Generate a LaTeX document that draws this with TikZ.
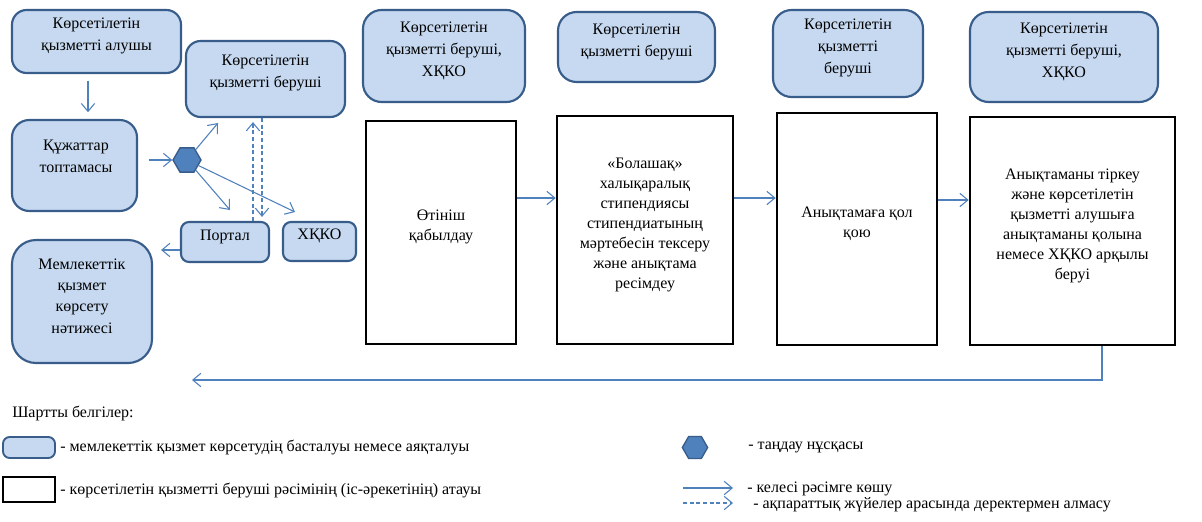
\documentclass[tikz,border=0pt]{standalone}
\usepackage{fontspec}
\setmainfont{Liberation Serif}
\usetikzlibrary{arrows.meta,shapes.geometric,fit,calc}
\definecolor{rfill}{HTML}{C6D9F1}
\definecolor{rdraw}{HTML}{385D8A}
\definecolor{arrc}{HTML}{4F81BD}
\definecolor{hexfill}{HTML}{4F81BD}
\tikzset{
  rbox/.style={draw=rdraw, fill=rfill, line width=1.6pt, inner sep=0pt, align=center, font=\fontsize{12pt}{16.5pt}\selectfont},
  pbox/.style={draw=black, fill=white, line width=2pt, inner sep=0pt, align=center, font=\fontsize{12pt}{15pt}\selectfont},
  txt/.style={inner sep=0pt, align=center, font=\fontsize{12pt}{16pt}\selectfont},
  leg/.style={inner sep=0pt, anchor=west, font=\fontsize{12pt}{14pt}\selectfont},
  arr/.style={draw=arrc, line width=0.8pt, -{Straight Barb[length=6pt,width=10pt,line width=0.8pt]}},
  darr/.style={arr, dash pattern=on 3pt off 2pt},
  hexa/.style={regular polygon, regular polygon sides=6, draw=rdraw, fill=hexfill, line width=1pt, inner sep=0pt, minimum size=21pt}
}
\begin{document}
\begin{tikzpicture}[x=0.75pt,y=-0.75pt]
\useasboundingbox (0,0) rectangle (1202,521);
\fill[white] (0,0) rectangle (1202,521);
% left part
\node[rbox, rounded corners=11pt, fit={(12,10)(181,73)}] (recv) {Көрсетілетін\\қызметті алушы};
\node[rbox, rounded corners=11pt, fit={(186,41)(345,117)}] (prov) {};
\node[txt] (provt) at (265.5,73) {Көрсетілетін\\қызметті беруші};
\node[rbox, rounded corners=13pt, fit={(12,120)(137,211)}] (docs) {};
\node[txt] (docst) at (76,156.5) {Құжаттар\\топтамасы};
\node[hexa] (hex) at (187,160) {};
\node[rbox, rounded corners=6pt, fit={(181,222)(269,262)}] (portal) {Портал};
\node[rbox, rounded corners=6pt, fit={(283,222)(356,261)}] (hkko) {ХҚКО};
\node[rbox, rounded corners=18pt, fit={(12,240)(152,363)}] (res) {};
\node[txt] (rest) at (82,296) {Мемлекеттік\\қызмет\\көрсету\\нәтижесі};
% headers
\node[rbox, rounded corners=14pt, fit={(363,10)(525,102)}] (h1) {Көрсетілетін\\қызметті беруші,\\ХҚКО};
\node[rbox, rounded corners=14pt, fit={(558,12)(715,82)}] (h2) {Көрсетілетін\\қызметті беруші};
\node[rbox, rounded corners=14pt, fit={(773,10)(923,97)}] (h3) {Көрсетілетін\\қызметті\\беруші};
\node[rbox, rounded corners=14pt, fit={(970,12)(1158,102)}] (h4) {Көрсетілетін\\қызметті беруші,\\ХҚКО};
% process boxes
\node[pbox, fit={(366,121)(516,344)}] (s1) {Өтініш\\қабылдау};
\node[pbox, fit={(557,116)(733,344)}] (s2) {«Болашақ»\\халықаралық\\стипендиясы\\стипендиатының\\мәртебесін тексеру\\және анықтама\\ресімдеу};
\node[pbox, fit={(777,113)(937,345)}] (s3) {Анықтамаға қол\\қою};
\node[pbox, fit={(970,117)(1175,345)}] (s4) {Анықтаманы тіркеу\\және көрсетілетін\\қызметті алушыға\\анықтаманы қолына\\немесе ХҚКО арқылы\\беруі};
% helper coordinates
\coordinate (x88) at (88,0);
\coordinate (x253) at (253,0);
\coordinate (x262) at (262,0);
\coordinate (y250) at (0,250);
\coordinate (ya) at (0,198);
\coordinate (yb) at (0,200);
\coordinate (xr) at (1102,0);
\coordinate (yr) at (0,380);
\coordinate (ret) at (192,380);
\coordinate (e1) at (218,123);
\coordinate (e2) at (230,210);
\coordinate (e3) at (295,212);
% connectors
\draw[arr, shorten <=5pt, shorten >=5pt] (recv.south -| x88) -- (docs.north -| x88);
\draw[arr, shorten <=8pt] (docs.east |- hex.west) -- (hex.west);
\draw[arr] (hex) -- (e1);
\draw[arr] (hex) -- (e2);
\draw[arr] (hex) -- (e3);
\draw[darr, shorten >=3pt] (portal.north -| x253) -- (prov.south -| x253);
\draw[darr, shorten >=3pt] (prov.south -| x262) -- (portal.north -| x262);
\draw[arr, shorten >=6pt] (portal.west |- y250) -- (res.east |- y250);
\draw[arr] (s1.east |- ya) -- (s2.west |- ya);
\draw[arr] (s2.east |- ya) -- (s3.west |- ya);
\draw[arr] (s3.east |- yb) -- (s4.west |- yb);
\draw[arr] (s4.south -| xr) -- (xr |- yr) -- (ret);
% legend
\node[leg] (lt) at (12,413) {Шартты белгілер:};
\node[rbox, line width=1.4pt, rounded corners=5pt, fit={(3,437)(55,458)}] (lg1) {};
\node[leg] (lg1t) at (60,447) {- мемлекеттік қызмет көрсетудің басталуы немесе аяқталуы};
\node[pbox, fit={(3,477)(55,502)}] (lg2) {};
\node[leg] (lg2t) at (60,490) {- көрсетілетін қызметті беруші рәсімінің (іс-әрекетінің) атауы};
\node[hexa, minimum size=19pt] (lg3) at (695,447.5) {};
\node[leg] (lg3t) at (748,447) {- таңдау нұсқасы};
\coordinate (la1) at (683,488);
\coordinate (la2) at (733,488);
\draw[arr] (la1) -- (la2);
\node[leg] (lg4t) at (747,489) {- келесі рәсімге көшу};
\coordinate (lb1) at (683,503);
\coordinate (lb2) at (733,503);
\draw[darr] (lb1) -- (lb2);
\node[leg] (lg5t) at (753,505) {- ақпараттық жүйелер арасында деректермен алмасу};
\end{tikzpicture}
\end{document}
